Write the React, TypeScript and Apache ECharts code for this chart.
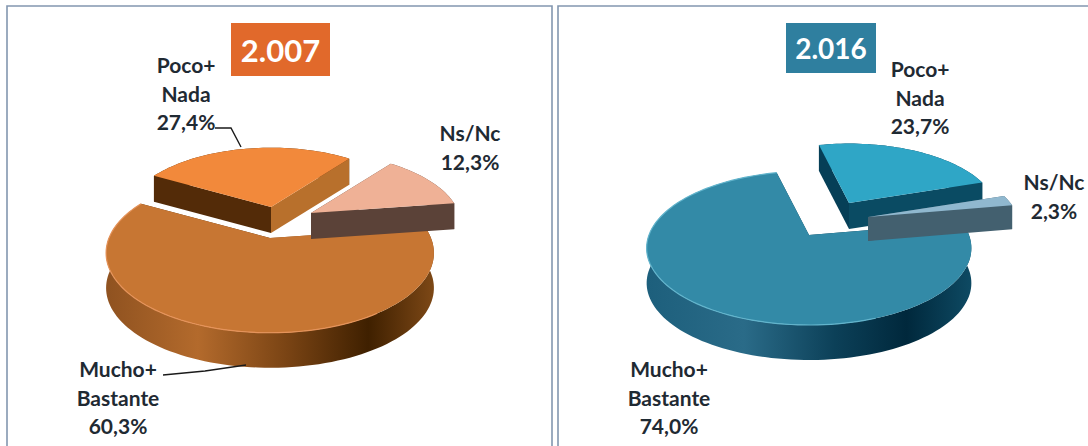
import React, { useEffect, useRef } from "react";
import * as echarts from "echarts";

const categories = ["Mucho+\nBastante", "Poco+\nNada", "Ns/Nc"];
const years = ["2.007", "2.016"];
const values2007 = [60.3, 27.4, 12.3];
const values2016 = [74.0, 23.7, 2.3];

const FONT = "Lato, Carlito, sans-serif";
const INK = "#1f2a33";

// Presentation of each pie (no data here)
const pies = [
  {
    values: values2007,
    apex: [270, 238], rx: 161, ry: 77, k: -0.1875, startDeg: -8,
    slices: [
      { off: [0, 0], r: 1, depth: 35, top: "#c77633", rim: "#e5935a", walls: ["#5a2f08", "#8a4d18"] },
      { off: [1, -31], r: 0.9, depth: 26, top: "#f2893b", rim: "#f2893b", walls: ["#b8702c", "#532b08"] },
      { off: [41, -25], r: 0.92, depth: 26, top: "#efb196", rim: "#efb196", walls: ["#5b4238", "#5b4238"] },
    ],
    wall: [[0, "#8f5220"], [0.28, "#b36a2c"], [0.55, "#7a4414"], [0.8, "#3f2000"], [1, "#7d4816"]],
    labels: [[118, 397], [186, 93], [470, 147]],
    leaders: [[[163, 375], [205, 371], [246, 365]], [[215, 128], [231, 128], [241, 147]], null],
    box: [231, 23, 99, 53], boxColor: "#e1692b", boxFont: 31,
    frame: [7, 6, 545, 450],
  },
  {
    values: values2016,
    apex: [809, 235], rx: 160, ry: 74.7, k: -0.17, startDeg: -10,
    slices: [
      { off: [0, 0], r: 1, depth: 35, top: "#338aa7", rim: "#62b4cc", walls: ["#0a3a50", "#0a3a50"] },
      { off: [40, -32], r: 0.92, depth: 26, top: "#2fa6c6", rim: "#2fa6c6", walls: ["#0a4b63", "#063f57"] },
      { off: [59, -18], r: 0.94, depth: 24, top: "#90b8cf", rim: "#90b8cf", walls: ["#43606f", "#43606f"] },
    ],
    wall: [[0, "#1d5f7c"], [0.3, "#2a6b88"], [0.58, "#0c4058"], [0.8, "#00283c"], [1, "#0e4a63"]],
    labels: [[669, 397], [920, 97], [1054, 196]],
    leaders: [null, null, null],
    box: [786, 23, 90, 50], boxColor: "#2f7f9f", boxFont: 28,
    frame: [558, 6, 540, 450],
  },
];

function project(p: any, i: number, deg: number, scale: number) {
  const s = p.slices[i];
  const a = (deg * Math.PI) / 180;
  const u = scale * Math.cos(a);
  const v = scale * Math.sin(a);
  const w = 1 + p.k * v;
  return [p.apex[0] + s.off[0] + (p.rx * u) / w, p.apex[1] + s.off[1] + (p.ry * v) / w];
}

function renderSlice(p: any) {
  return (params: any, api: any) => {
    const i = params.dataIndex;
    const s = p.slices[i];
    const total = p.values.reduce((t: number, x: number) => t + x, 0);
    const before = p.values.slice(0, i).reduce((t: number, x: number) => t + x, 0);
    const a0 = p.startDeg + (before / total) * 360;
    const a1 = a0 + (api.value(0) / total) * 360;
    const arc: number[][] = [];
    const n = Math.max(4, Math.ceil((a1 - a0) / 2));
    for (let j = 0; j <= n; j++) arc.push(project(p, i, a0 + ((a1 - a0) * j) / n, s.r));
    const center = project(p, i, 0, 0);
    const down = (q: number[]) => [q[0], q[1] + s.depth];
    const order = [2, 1, 3][i] * 10; // far slices first
    const first = arc[0];
    const last = arc[arc.length - 1];
    const children: any[] = [
      {
        type: "polygon",
        z2: order,
        shape: { points: [...arc, ...arc.map(down).reverse()] },
        style: {
          fill: new echarts.graphic.LinearGradient(0, 0, 1, 0,
            i === 0 ? p.wall.map((c: any) => ({ offset: c[0], color: c[1] })) : [
              { offset: 0, color: s.walls[1] }, { offset: 1, color: s.walls[1] }]),
        },
      },
      {
        type: "polygon",
        z2: order + 1,
        shape: { points: [center, first, down(first), down(center)] },
        style: { fill: s.walls[1] },
      },
      {
        type: "polygon",
        z2: order + 1,
        shape: { points: [center, last, down(last), down(center)] },
        style: { fill: s.walls[0] },
      },
      {
        type: "polygon",
        z2: order + 2,
        shape: { points: [center, ...arc] },
        style: { fill: s.top },
      },
    ];
    if (i === 0) {
      children.push({
        type: "polyline",
        z2: order + 3,
        shape: { points: arc.slice(Math.floor(n * 0.3)) },
        style: { fill: "none", stroke: s.rim, lineWidth: 1.2 },
      });
    }
    return { type: "group", children };
  };
}

function labelText(name: string, value: number) {
  return `${name}\n${value.toFixed(1).replace(".", ",")}%`;
}

export default function App() {
  const ref = useRef<HTMLDivElement>(null);
  useEffect(() => {
    const chart = echarts.init(ref.current!, undefined, { renderer: "svg" });
    const graphic: any[] = [];
    pies.forEach((p, pi) => {
      graphic.push({
        type: "rect", z: 0,
        shape: { x: p.frame[0], y: p.frame[1], width: p.frame[2], height: p.frame[3] },
        style: { fill: "#ffffff", stroke: "#8397b0", lineWidth: 1.6 },
      });
      graphic.push({
        type: "rect", z: 5,
        shape: { x: p.box[0], y: p.box[1], width: p.box[2], height: p.box[3] },
        style: { fill: p.boxColor },
      });
      graphic.push({
        type: "text", z: 6,
        x: p.box[0] + p.box[2] / 2, y: p.box[1] + p.box[3] / 2,
        style: {
          text: years[pi], fill: "#ffffff", font: `bold ${p.boxFont}px ${FONT}`,
          textAlign: "center", textVerticalAlign: "middle",
        },
      });
      categories.forEach((name, i) => {
        graphic.push({
          type: "text", z: 6,
          x: p.labels[i][0], y: p.labels[i][1],
          style: {
            text: labelText(name, p.values[i]), fill: INK,
            font: `bold 21px ${FONT}`, lineHeight: 28.5,
            textAlign: "center", textVerticalAlign: "middle",
          },
        });
        const l = p.leaders[i];
        if (l) {
          graphic.push({
            type: "polyline", z: 6,
            shape: { points: l },
            style: { fill: "none", stroke: "#1a1a1a", lineWidth: 1.4 },
          });
        }
      });
    });
    chart.setOption({
      animation: false,
      backgroundColor: "#ffffff",
      graphic,
      series: pies.map((p) => ({
        type: "custom",
        coordinateSystem: "none",
        silent: true,
        z: 3,
        clip: false,
        renderItem: renderSlice(p),
        data: p.values.map((v) => [v]),
      })),
    });
    return () => chart.dispose();
  }, []);
  return (
    <div ref={ref} style={{ position: "fixed", left: 0, top: 0, width: 1088, height: 446 }} />
  );
}
